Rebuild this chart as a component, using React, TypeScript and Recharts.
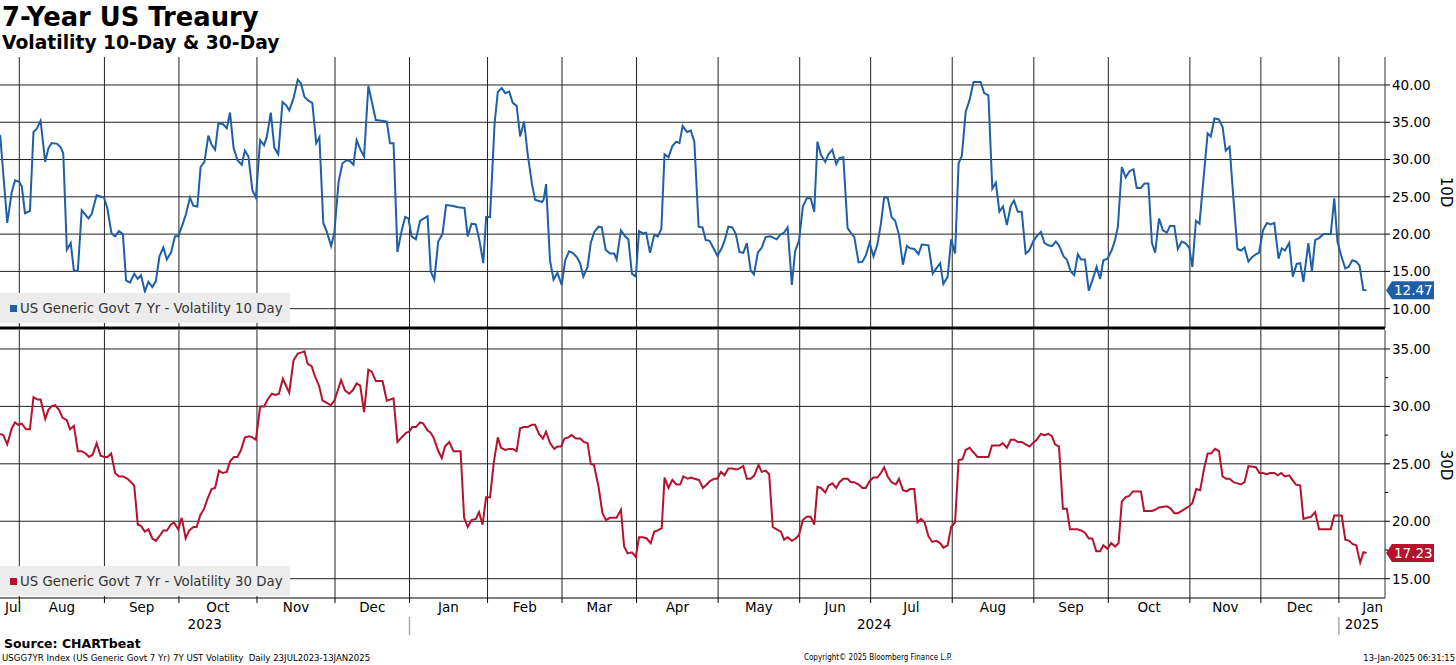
import React from 'react';
import {
  LineChart,
  Line,
  XAxis,
  YAxis,
  CartesianGrid,
  ReferenceLine,
  Legend
} from 'recharts';

// x axis runs on a trading-day index: 0 = 24 Jul 2023, 385.8 = 13 Jan 2025
const dayRange: [number, number] = [0.56, 391];
// first session of each month, Aug 2023 .. Jan 2025
const monthStarts = [6, 30, 51, 73, 95, 116, 138, 159, 180, 203, 226, 246, 269, 292, 313, 336, 356, 378];
const monthNames = ['Jul', 'Aug', 'Sep', 'Oct', 'Nov', 'Dec', 'Jan', 'Feb', 'Mar', 'Apr', 'May', 'Jun', 'Jul', 'Aug', 'Sep', 'Oct', 'Nov', 'Dec', 'Jan'];
const yearNames = ['2023', '2024', '2025'];
const yearStarts = [116, 378];

const tenDayTicks = [10, 15, 20, 25, 30, 35, 40];
const thirtyDayTicks = [15, 20, 25, 30, 35];
const thirtyDayMinor = [17.5, 22.5, 27.5, 32.5];

// [trading day, 10-day volatility]
const vol10: [number, number][] = [
  [0.6, 33.3], [2.6, 21.5], [3.9, 25.7], [4.8, 27.2], [6.0, 27.0], [6.7, 26.4], [7.6, 22.8], [9.0, 23.1],
  [10.0, 33.7], [10.9, 34.1], [12.0, 35.2], [13.3, 29.7], [14.2, 31.5], [15.1, 32.2], [16.7, 32.1], [17.7, 31.6],
  [18.4, 30.8], [19.4, 17.9], [20.5, 18.8], [21.4, 15.1], [22.5, 15.1], [23.6, 23.2], [25.5, 22.1], [26.4, 22.7],
  [27.8, 25.2], [29.9, 24.9], [30.8, 23.5], [32.0, 20.1], [33.0, 19.7], [34.1, 20.4], [35.2, 20.0], [36.1, 13.8],
  [37.2, 13.5], [38.4, 14.7], [39.4, 14.0], [40.3, 14.5], [41.4, 12.3], [42.4, 13.6], [43.5, 12.9], [44.5, 13.7],
  [45.5, 17.0], [46.6, 18.2], [47.6, 16.6], [48.8, 17.6], [49.9, 19.7], [50.8, 19.7], [52.1, 21.4], [53.0, 22.7],
  [54.1, 24.9], [55.1, 23.8], [56.2, 23.7], [57.1, 29.0], [58.2, 29.7], [59.3, 33.2], [60.2, 32.0], [61.2, 31.3],
  [62.1, 34.8], [63.3, 34.8], [64.5, 34.2], [65.4, 36.3], [66.4, 31.6], [67.5, 29.9], [68.7, 29.3], [69.6, 31.2],
  [70.6, 30.4], [71.7, 25.9], [72.7, 24.9], [73.9, 32.6], [75.0, 31.9], [75.8, 33.1], [76.9, 36.3], [77.9, 31.6],
  [79.0, 30.7], [80.2, 37.7], [81.2, 37.3], [82.1, 36.6], [83.3, 38.2], [84.5, 40.7], [85.4, 40.2], [86.4, 38.4],
  [87.5, 37.9], [88.6, 37.6], [89.7, 32.2], [90.6, 33.0], [91.7, 21.5], [92.7, 20.3], [93.9, 18.4], [94.8, 20.1],
  [96.0, 27.0], [97.1, 29.5], [98.3, 29.9], [99.2, 29.8], [100.2, 29.3], [101.1, 32.6], [102.2, 31.3], [103.2, 30.4],
  [104.4, 39.9], [106.5, 35.3], [108.2, 35.2], [109.6, 35.1], [110.5, 32.2], [111.5, 32.2], [112.6, 17.6], [113.8, 20.5],
  [114.8, 22.3], [115.7, 22.1], [116.6, 19.7], [117.8, 19.3], [119.0, 21.8], [120.1, 22.1], [121.1, 22.4], [122.0, 15.0],
  [123.0, 13.9], [124.1, 19.0], [125.3, 20.0], [126.3, 23.9], [127.9, 23.8], [129.8, 23.6], [131.5, 23.5], [132.4, 19.7],
  [133.5, 21.4], [134.7, 21.3], [135.7, 19.2], [136.8, 16.1], [137.6, 22.3], [138.7, 22.3], [140.0, 34.9], [140.9, 39.1],
  [142.0, 39.6], [143.0, 38.9], [144.1, 39.1], [145.1, 37.6], [146.2, 37.2], [147.2, 33.1], [148.3, 35.1], [149.3, 30.8],
  [150.5, 26.8], [151.4, 24.6], [153.3, 24.3], [153.8, 24.6], [154.5, 26.7], [155.6, 16.5], [156.6, 13.9], [157.7, 14.8],
  [158.9, 13.2], [159.9, 16.5], [161.0, 17.7], [162.0, 17.5], [163.2, 16.9], [164.1, 16.1], [165.0, 14.3], [166.2, 15.6],
  [167.1, 18.8], [168.1, 20.3], [169.3, 21.0], [170.2, 20.9], [171.3, 17.9], [172.5, 17.4], [173.7, 17.4], [174.4, 16.6],
  [175.6, 20.5], [176.8, 19.7], [177.7, 19.3], [178.7, 14.7], [179.8, 14.3], [180.7, 20.4], [181.8, 20.1], [182.7, 20.2],
  [183.8, 17.5], [185.0, 19.9], [186.0, 19.7], [187.0, 20.7], [187.9, 30.7], [189.0, 30.3], [190.1, 31.8], [191.2, 32.4],
  [192.1, 32.2], [193.0, 34.5], [194.2, 33.7], [195.3, 33.9], [196.3, 32.4], [197.5, 21.0], [198.6, 20.9], [199.5, 19.2],
  [200.6, 19.1], [201.7, 18.1], [202.8, 17.1], [204.0, 18.1], [205.0, 19.4], [205.9, 21.0], [207.0, 20.9], [208.0, 20.0],
  [209.0, 17.6], [210.1, 17.5], [211.1, 18.8], [212.2, 15.1], [213.1, 14.6], [214.2, 17.5], [215.3, 18.2], [216.4, 19.6],
  [217.7, 19.7], [219.5, 19.3], [220.5, 19.9], [221.6, 20.2], [222.6, 20.9], [223.8, 13.2], [224.7, 17.7], [225.8, 19.1],
  [226.9, 23.7], [228.0, 24.8], [229.1, 24.8], [230.1, 23.0], [231.0, 32.4], [232.0, 30.6], [233.2, 29.7], [234.1, 30.7],
  [235.2, 31.3], [236.3, 29.4], [237.2, 30.2], [238.3, 30.3], [239.5, 20.8], [240.4, 20.2], [241.4, 19.6], [242.6, 16.2],
  [243.7, 16.3], [244.6, 17.1], [245.7, 18.8], [246.8, 17.0], [247.9, 18.6], [248.9, 21.4], [249.8, 24.9], [250.8, 24.9],
  [251.9, 22.3], [252.9, 21.8], [254.0, 19.9], [255.1, 15.9], [256.2, 18.4], [257.1, 18.1], [258.3, 18.0], [259.5, 17.3],
  [260.4, 18.6], [262.3, 18.5], [263.5, 14.7], [264.5, 15.4], [265.6, 16.1], [266.5, 13.3], [267.7, 14.3], [268.7, 19.3],
  [269.8, 17.4], [270.8, 29.5], [271.7, 30.5], [272.8, 36.4], [273.9, 38.0], [275.0, 40.4], [277.0, 40.4], [278.0, 38.9],
  [279.2, 38.6], [280.3, 26.1], [281.3, 26.9], [282.3, 23.0], [283.3, 23.7], [284.4, 21.2], [285.5, 23.8], [286.4, 24.5],
  [287.5, 23.0], [288.6, 23.0], [289.7, 17.4], [290.7, 17.8], [291.9, 19.1], [292.8, 19.7], [294.0, 20.3], [295.0, 18.8],
  [296.1, 18.5], [297.1, 18.4], [298.2, 19.0], [299.1, 18.5], [300.4, 17.0], [301.3, 16.6], [302.4, 15.0], [303.4, 14.5],
  [304.4, 17.3], [305.3, 16.6], [306.4, 16.6], [307.5, 12.4], [308.5, 13.8], [309.7, 15.6], [310.7, 14.0], [311.6, 16.5],
  [312.8, 16.7], [314.0, 17.9], [314.9, 19.2], [315.7, 21.0], [316.8, 29.0], [317.9, 27.6], [318.9, 28.4], [320.1, 28.7],
  [321.0, 26.2], [322.2, 26.2], [323.2, 26.8], [324.3, 26.8], [325.3, 18.8], [326.2, 17.5], [327.3, 22.1], [328.4, 20.5],
  [329.5, 20.2], [330.4, 21.1], [331.6, 21.1], [332.6, 18.0], [333.7, 19.0], [334.7, 18.8], [335.8, 18.2], [336.7, 15.6],
  [337.7, 21.8], [338.7, 21.4], [339.8, 27.2], [341.0, 33.5], [341.9, 33.1], [342.9, 35.5], [344.1, 35.4], [345.2, 34.4],
  [346.1, 31.2], [347.2, 31.7], [348.3, 24.6], [349.4, 18.0], [350.4, 17.8], [351.4, 18.2], [352.5, 16.3], [353.5, 16.9],
  [354.6, 17.3], [355.5, 17.5], [356.6, 20.5], [357.7, 21.5], [358.8, 21.3], [359.8, 21.5], [361.0, 16.7], [361.9, 18.1],
  [362.8, 17.8], [364.0, 18.8], [365.0, 14.3], [366.1, 16.0], [367.1, 16.1], [368.0, 13.6], [369.4, 18.8], [370.4, 15.0],
  [371.3, 19.2], [372.5, 19.5], [373.7, 20.0], [375.7, 20.0], [376.7, 24.8], [377.6, 19.0], [378.6, 17.2], [379.8, 15.4],
  [380.7, 15.6], [381.8, 16.5], [382.9, 16.3], [383.8, 15.8], [384.9, 12.5], [385.8, 12.47]
];

// [trading day, 30-day volatility]
const vol30: [number, number][] = [
  [0.6, 27.6], [1.5, 27.5], [2.6, 26.7], [3.9, 28.1], [4.8, 28.6], [5.7, 28.4], [6.7, 28.5], [7.9, 28.0],
  [9.0, 28.0], [10.0, 30.8], [11.1, 30.6], [12.0, 30.6], [13.3, 28.9], [14.2, 29.7], [15.1, 30.0], [16.1, 30.1],
  [17.2, 29.7], [18.2, 29.0], [19.4, 28.8], [20.3, 28.0], [21.4, 28.3], [22.5, 26.1], [23.6, 26.1], [24.7, 25.9],
  [25.7, 25.6], [26.7, 25.8], [27.8, 26.8], [28.9, 25.7], [30.0, 25.6], [30.9, 25.6], [31.9, 25.9], [33.0, 24.2],
  [34.1, 23.9], [35.3, 23.9], [36.5, 23.7], [37.5, 23.4], [38.4, 23.1], [39.4, 19.7], [40.3, 19.6], [41.4, 19.1],
  [42.4, 19.3], [43.5, 18.5], [44.5, 18.3], [45.5, 18.7], [46.6, 19.2], [47.6, 19.2], [48.7, 19.7], [49.6, 19.9],
  [50.8, 19.3], [51.8, 20.3], [52.9, 18.5], [53.9, 19.2], [55.1, 19.5], [56.0, 19.5], [57.0, 20.5], [58.1, 21.1],
  [59.0, 21.9], [60.2, 22.8], [61.2, 22.9], [62.3, 24.4], [63.3, 24.2], [64.5, 24.3], [65.4, 25.2], [66.5, 25.6],
  [67.5, 25.6], [68.5, 26.2], [69.6, 27.3], [70.8, 27.4], [71.7, 27.3], [72.7, 27.1], [73.9, 30.0], [75.0, 30.0],
  [76.0, 30.6], [77.2, 31.1], [78.3, 31.0], [79.2, 31.1], [80.3, 32.4], [81.2, 31.8], [82.1, 31.2], [83.3, 34.0],
  [84.5, 34.6], [85.6, 34.7], [86.4, 34.8], [87.3, 33.7], [88.4, 33.5], [89.4, 32.6], [90.5, 31.8], [91.5, 30.5],
  [92.7, 30.3], [93.8, 30.1], [94.8, 30.5], [95.8, 31.4], [96.7, 32.3], [97.8, 31.4], [99.0, 31.1], [100.0, 31.4],
  [101.1, 32.0], [102.1, 31.8], [103.2, 29.5], [104.4, 33.2], [105.4, 33.0], [106.5, 32.2], [108.4, 32.2], [109.6, 30.5],
  [111.5, 30.7], [112.6, 26.9], [113.8, 27.3], [115.0, 27.7], [115.9, 27.8], [116.8, 28.2], [117.8, 28.2], [119.0, 28.6],
  [119.9, 28.5], [121.1, 27.9], [122.0, 27.7], [122.9, 27.2], [124.0, 26.2], [125.1, 25.5], [126.0, 26.5], [127.2, 26.9],
  [128.4, 26.1], [130.4, 26.1], [131.4, 20.3], [132.4, 19.5], [133.5, 20.1], [134.7, 20.2], [135.6, 20.8], [136.6, 19.7],
  [137.6, 22.1], [138.7, 22.1], [139.8, 25.2], [140.9, 27.3], [141.8, 26.4], [143.0, 26.2], [144.1, 26.3], [145.1, 26.3],
  [146.2, 26.1], [147.2, 28.1], [148.3, 28.2], [149.3, 28.2], [150.5, 28.4], [151.4, 28.4], [152.5, 27.6], [153.6, 27.2],
  [154.5, 27.8], [155.6, 26.8], [156.8, 26.3], [157.7, 26.5], [158.7, 26.5], [159.7, 27.2], [160.8, 27.3], [161.7, 27.5],
  [162.9, 27.2], [164.1, 27.2], [165.2, 26.9], [166.2, 26.8], [167.1, 25.0], [168.0, 24.9], [169.3, 23.0], [170.4, 20.7],
  [171.4, 20.1], [172.5, 20.3], [174.4, 20.3], [175.6, 21.0], [176.5, 17.8], [177.5, 17.2], [178.7, 17.3], [179.8, 16.9],
  [180.7, 18.6], [181.8, 18.6], [182.9, 18.5], [184.0, 18.1], [185.0, 19.1], [186.0, 19.2], [187.1, 19.4], [187.9, 23.8],
  [189.0, 22.9], [190.1, 23.6], [191.2, 23.2], [192.3, 23.2], [193.2, 23.9], [194.4, 23.7], [195.4, 23.8], [196.3, 23.7],
  [197.6, 23.6], [198.7, 22.9], [199.8, 23.2], [200.7, 23.5], [201.9, 23.7], [202.8, 23.7], [203.8, 24.3], [204.8, 24.0],
  [205.9, 24.6], [207.0, 24.6], [208.1, 24.5], [209.0, 24.6], [210.1, 24.8], [211.1, 23.7], [212.2, 23.7], [213.2, 24.0],
  [214.4, 24.9], [215.3, 24.3], [216.4, 24.4], [217.4, 24.1], [218.4, 19.5], [219.5, 19.3], [220.7, 19.1], [221.6, 18.4],
  [222.6, 18.6], [223.8, 18.3], [224.9, 18.5], [225.8, 18.8], [226.9, 20.1], [228.0, 20.4], [229.1, 20.4], [230.1, 19.7],
  [231.0, 23.0], [232.0, 22.9], [233.2, 22.5], [234.1, 23.1], [235.2, 23.3], [236.3, 22.9], [237.2, 23.4], [238.3, 23.7],
  [239.5, 23.7], [240.4, 23.4], [241.4, 23.4], [242.6, 23.2], [243.7, 22.9], [244.6, 22.9], [245.7, 23.5], [246.8, 23.8],
  [247.9, 23.8], [248.9, 24.2], [249.8, 24.7], [250.8, 23.9], [251.9, 23.4], [253.1, 23.2], [254.0, 23.7], [255.1, 22.7],
  [256.2, 22.6], [257.1, 22.8], [258.3, 22.8], [259.2, 19.9], [260.2, 20.2], [261.2, 19.9], [262.3, 18.7], [263.4, 18.2],
  [264.5, 18.3], [265.6, 18.1], [266.5, 17.7], [267.7, 17.9], [268.7, 19.5], [269.8, 19.9], [270.8, 25.3], [271.9, 25.4],
  [272.8, 26.2], [273.9, 26.4], [275.0, 26.0], [276.1, 25.6], [277.1, 25.6], [279.2, 25.6], [280.2, 26.6], [281.3, 26.6],
  [282.3, 26.6], [283.2, 26.8], [284.4, 26.4], [285.5, 27.1], [286.5, 27.1], [287.5, 26.9], [288.6, 26.9], [289.7, 26.7],
  [290.8, 26.5], [291.7, 26.8], [292.8, 27.1], [294.0, 27.6], [295.0, 27.5], [296.1, 27.6], [297.1, 27.4], [298.0, 26.7],
  [299.1, 26.5], [300.2, 21.1], [301.3, 21.1], [302.2, 19.3], [304.3, 19.3], [305.3, 19.2], [306.4, 19.0], [307.5, 18.5],
  [308.5, 18.5], [309.6, 17.4], [310.7, 17.4], [311.6, 17.9], [312.8, 17.6], [313.8, 18.1], [314.9, 17.8], [315.9, 18.1],
  [316.8, 21.7], [317.9, 22.1], [318.9, 22.2], [319.9, 22.6], [321.0, 22.6], [322.2, 22.6], [323.1, 20.9], [324.1, 20.9],
  [325.3, 20.9], [326.2, 21.0], [327.3, 21.2], [329.5, 21.3], [330.6, 21.1], [331.6, 20.7], [332.6, 20.7], [333.7, 20.9],
  [334.7, 21.1], [335.8, 21.3], [336.7, 21.6], [337.8, 22.8], [338.9, 22.7], [340.0, 24.6], [341.0, 25.9], [342.0, 25.9],
  [343.1, 26.3], [344.2, 26.1], [345.2, 23.9], [346.2, 23.7], [347.2, 23.7], [348.3, 23.4], [349.4, 23.3], [350.4, 23.2],
  [351.4, 23.4], [352.5, 24.8], [354.6, 24.7], [355.6, 24.2], [356.6, 24.2], [357.7, 24.1], [358.6, 24.2], [359.8, 24.2],
  [360.8, 24.0], [361.7, 24.2], [362.8, 23.9], [364.0, 24.0], [364.9, 23.6], [365.9, 23.2], [367.1, 23.1], [368.0, 20.2],
  [369.1, 20.3], [370.2, 20.4], [371.3, 20.8], [372.4, 19.3], [374.6, 19.3], [375.7, 19.3], [376.7, 20.5], [377.7, 20.5],
  [378.8, 20.5], [379.8, 18.4], [380.9, 18.3], [381.9, 18.0], [382.9, 17.9], [384.0, 16.4], [384.9, 17.3], [385.8, 17.23]
];

const BLUE = '#1f5fa6';
const RED = '#b5122d';
const GRID = '#222';
const FONT = '"DejaVu Sans", Verdana, sans-serif';

const data10 = vol10.map(([d, v]) => ({ d, v }));
const data30 = vol30.map(([d, v]) => ({ d, v }));
const last10 = vol10[vol10.length - 1][1];
const last30 = vol30[vol30.length - 1][1];

// month labels sit mid-month; first and last hug the plot edges
const monthTickValues = [
  dayRange[0],
  ...monthStarts.slice(0, -1).map((s, i) => (s + monthStarts[i + 1]) / 2),
  dayRange[1]
];
const yearBounds = [dayRange[0], ...yearStarts, dayRange[1]];
const yearCenters = yearNames.map((_, i) => (yearBounds[i] + yearBounds[i + 1]) / 2);
const bottomAxisTicks = Array.from(new Set([...monthStarts, ...monthTickValues, ...yearCenters])).sort((a, b) => a - b);

// one tick renderer for the date axis: month ticks, month names, year names, year separators
const DateTick = (props: any) => {
  const { x, y, payload } = props;
  const v = payload.value as number;
  const lastIdx = monthNames.length - 1;
  const mi = monthTickValues.indexOf(v);
  const yi = yearCenters.indexOf(v);
  return (
    <g>
      {monthStarts.includes(v) && <line x1={x} x2={x} y1={y} y2={y + 5} stroke="#000" />}
      {yearStarts.includes(v) && <line x1={x} x2={x} y1={y + 19} y2={y + 37} stroke="#aaa" strokeWidth={1.5} />}
      {mi >= 0 && (
        <text
          x={x + (mi === 0 ? 5 : mi === lastIdx ? -2 : 0)}
          y={y + 14}
          textAnchor={mi === 0 ? 'start' : mi === lastIdx ? 'end' : 'middle'}
          fontSize={13.5}
          fill="#000"
        >
          {monthNames[mi]}
        </text>
      )}
      {yi >= 0 && (
        <text x={x} y={y + 31} textAnchor="middle" fontSize={13.5} fill="#000">
          {yearNames[yi]}
        </text>
      )}
    </g>
  );
};

const ValueTick = (props: any) => {
  const { x, y, payload } = props;
  const v = payload.value as number;
  const major = v % 5 === 0;
  const axisX = x - 7;
  return (
    <g>
      <line x1={axisX} y1={y} x2={axisX + (major ? 5 : 3)} y2={y} stroke="#000" />
      {major && (
        <text x={x} y={y} dy="0.36em" fontSize={13.5} fill="#000">
          {v.toFixed(2)}
        </text>
      )}
    </g>
  );
};

const lastValueTag = (value: number, color: string) => (props: any) => {
  const vb = props.viewBox;
  const x = vb.x + vb.width;
  const y = vb.y;
  return (
    <g>
      <path d={`M${x + 1},${y} L${x + 7},${y - 9} H${x + 49} V${y + 9} H${x + 7} Z`} fill={color} />
      <text x={x + 9} y={y} dy="0.36em" fontSize={13.5} fill="#fff">
        {value.toFixed(2)}
      </text>
    </g>
  );
};

const LegendBox = (props: any) => {
  const item = props.payload && props.payload[0];
  if (!item) return null;
  return (
    <div
      style={{
        background: '#ececec',
        width: 290,
        height: 30,
        display: 'flex',
        alignItems: 'center',
        fontSize: 13.3,
        color: '#333',
        fontFamily: FONT
      }}
    >
      <span style={{ display: 'inline-block', width: 7, height: 7, background: item.color, marginLeft: 10, marginRight: 3 }} />
      <span>{item.value}</span>
    </div>
  );
};

const textAbs = (left: number, top: number, size: number, extra: React.CSSProperties = {}): React.CSSProperties => ({
  position: 'absolute',
  left,
  top,
  fontSize: size,
  lineHeight: 1,
  whiteSpace: 'nowrap',
  color: '#000',
  ...extra
});

export default function App() {
  return (
    <div
      style={{
        position: 'absolute',
        left: 0,
        top: 0,
        width: 1456,
        height: 665,
        background: '#fff',
        overflow: 'hidden',
        fontFamily: FONT
      }}
    >
      <div style={textAbs(2, 5, 25.8, { fontWeight: 'bold' })}>7-Year US Treaury</div>
      <div style={textAbs(2, 34.3, 18.7, { fontWeight: 'bold' })}>Volatility 10-Day &amp; 30-Day</div>

      {/* 10-day panel */}
      <div style={{ position: 'absolute', left: 0, top: 0 }}>
        <LineChart width={1456} height={330} data={data10} margin={{ top: 57, right: 0, bottom: 1, left: 0 }}>
          <CartesianGrid stroke={GRID} horizontalValues={tenDayTicks} verticalValues={monthStarts} />
          <XAxis
            dataKey="d"
            type="number"
            domain={dayRange}
            allowDataOverflow
            height={1}
            ticks={monthStarts}
            interval={0}
            tick={() => null}
            tickLine={false}
            axisLine={{ stroke: '#000', strokeWidth: 3 }}
          />
          <YAxis
            orientation="right"
            type="number"
            domain={[7.41, 43.75]}
            allowDataOverflow
            ticks={tenDayTicks}
            interval={0}
            width={71}
            tickSize={5}
            tickMargin={2}
            tickLine={false}
            axisLine={{ stroke: '#333' }}
            tick={<ValueTick />}
          />
          <Legend
            layout="horizontal"
            verticalAlign="middle"
            align="center"
            wrapperStyle={{ left: 0, top: 293, width: 290, height: 30 }}
            content={LegendBox}
          />
          <Line
            type="linear"
            dataKey="v"
            name="US Generic Govt 7 Yr - Volatility 10 Day"
            stroke={BLUE}
            strokeWidth={2}
            dot={false}
            isAnimationActive={false}
          />
          <ReferenceLine y={last10} stroke="none" label={lastValueTag(last10, BLUE)} />
        </LineChart>
      </div>

      {/* 30-day panel */}
      <div style={{ position: 'absolute', left: 0, top: 327 }}>
        <LineChart width={1456} height={338} data={data30} margin={{ top: 3, right: 0, bottom: 27, left: 0 }}>
          <CartesianGrid stroke={GRID} horizontalValues={thirtyDayTicks} verticalValues={monthStarts} />
          <XAxis
            dataKey="d"
            type="number"
            domain={dayRange}
            allowDataOverflow
            height={40}
            ticks={bottomAxisTicks}
            interval={0}
            tickSize={0}
            tickMargin={0}
            tickLine={false}
            axisLine={{ stroke: '#000' }}
            tick={<DateTick />}
          />
          <YAxis
            orientation="right"
            type="number"
            domain={[13.32, 36.65]}
            allowDataOverflow
            ticks={[...thirtyDayTicks, ...thirtyDayMinor].sort((a, b) => a - b)}
            interval={0}
            width={71}
            tickSize={5}
            tickMargin={2}
            tickLine={false}
            axisLine={{ stroke: '#333' }}
            tick={<ValueTick />}
          />
          <Legend
            layout="horizontal"
            verticalAlign="middle"
            align="center"
            wrapperStyle={{ left: 0, top: 239, width: 290, height: 30 }}
            content={LegendBox}
          />
          <Line
            type="linear"
            dataKey="v"
            name="US Generic Govt 7 Yr - Volatility 30 Day"
            stroke={RED}
            strokeWidth={2}
            dot={false}
            isAnimationActive={false}
          />
          <ReferenceLine y={last30} stroke="none" label={lastValueTag(last30, RED)} />
        </LineChart>
      </div>

      <div style={textAbs(1445, 192, 15, { transform: 'translate(-50%, -50%) rotate(90deg)' })}>10D</div>
      <div style={textAbs(1445, 465, 15, { transform: 'translate(-50%, -50%) rotate(90deg)' })}>30D</div>

      <div style={textAbs(4, 637.7, 12.5, { fontWeight: 'bold' })}>Source: CHARTbeat</div>
      <div style={textAbs(2, 653.5, 8.6)}>
        USGG7YR Index (US Generic Govt 7 Yr) 7Y UST Volatility&nbsp;&nbsp;Daily 23JUL2023-13JAN2025
      </div>
      <div
        style={textAbs(878, 653.7, 8, {
          transform: 'translateX(-50%)',
          fontFamily: '"DejaVu Sans Condensed", "DejaVu Sans", sans-serif'
        })}
      >
        Copyright© 2025 Bloomberg Finance L.P.
      </div>
      <div
        style={textAbs(1455, 653.5, 8.4, {
          transform: 'translateX(-100%)'
        })}
      >
        13-Jan-2025 06:31:15
      </div>
    </div>
  );
}
